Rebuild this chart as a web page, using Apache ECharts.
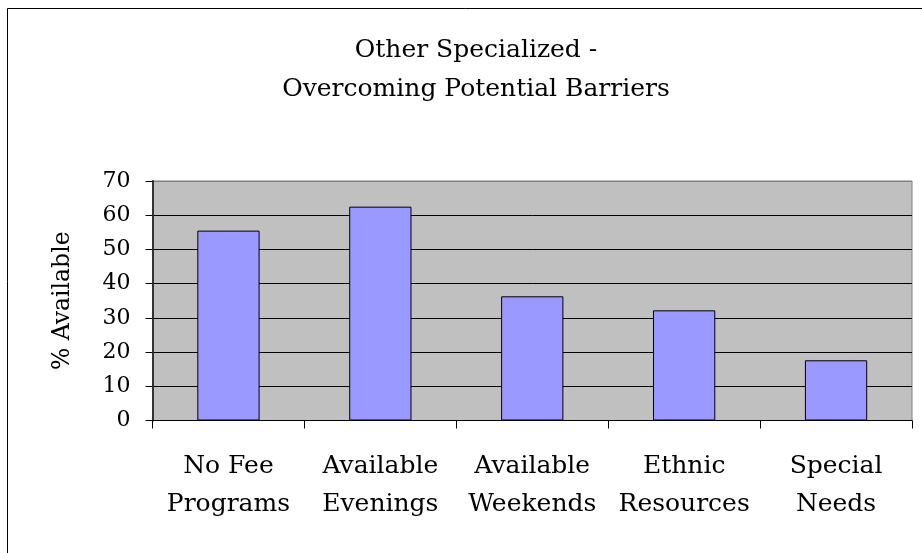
<!DOCTYPE html>
<html>
<head>
<meta charset="utf-8">
<script src="https://cdn.jsdelivr.net/npm/echarts@6/dist/echarts.min.js"></script>
<style>html,body{margin:0;padding:0;background:#fff}#c{width:922px;height:553px}</style>
</head>
<body>
<div id="c"></div>
<script>
const titleText = 'Other Specialized -\nOvercoming Potential Barriers';
const yAxisName = '% Available';
const categories = ['No Fee\nPrograms', 'Available\nEvenings', 'Available\nWeekends', 'Ethnic\nResources', 'Special\nNeeds'];
const values = [55.5, 62.5, 36.3, 32.2, 17.6];
const yMin = 0, yMax = 70, yStep = 10;

const FONT = 'DejaVu Serif';
const chart = echarts.init(document.getElementById('c'), null, {renderer: 'canvas'});
chart.setOption({
  animation: false,
  backgroundColor: '#ffffff',
  graphic: [{
    type: 'rect', silent: true, z: -1,
    shape: {x: 7.5, y: 8.5, width: 940, height: 580},
    style: {fill: 'none', stroke: '#000', lineWidth: 1}
  }],
  title: {
    text: titleText,
    left: 471, top: 26, textAlign: 'center',
    textStyle: {fontFamily: FONT, fontSize: 25, fontWeight: 'normal', color: '#000', lineHeight: 39}
  },
  grid: {
    left: 152.5, right: 10, top: 181, bottom: 132.5,
    show: true, backgroundColor: '#c0c0c0', borderColor: '#808080', borderWidth: 1
  },
  xAxis: {
    type: 'category', data: categories,
    axisLine: {show: true, lineStyle: {color: '#000', width: 1}},
    axisTick: {show: true, length: 8, alignWithLabel: false, lineStyle: {color: '#000'}},
    axisLabel: {fontFamily: FONT, fontSize: 25, color: '#000', lineHeight: 38, margin: 27, interval: 0}
  },
  yAxis: {
    type: 'value', min: yMin, max: yMax, interval: yStep,
    name: yAxisName, nameLocation: 'middle', nameGap: 78, nameRotate: 90,
    nameTextStyle: {fontFamily: FONT, fontSize: 23.5, color: '#000'},
    axisLine: {show: true, lineStyle: {color: '#333', width: 2}},
    axisTick: {show: true, length: 7, lineStyle: {color: '#000'}},
    axisLabel: {fontFamily: FONT, fontSize: 22, color: '#000', margin: 22},
    splitLine: {show: true, lineStyle: {color: ['#000','#000','#000','#000','#000','#000','#000','#808080'], width: 1}}
  },
  series: [{
    type: 'bar', data: values, barWidth: '41%',
    itemStyle: {color: '#9999ff', borderColor: '#000', borderWidth: 1}
  }]
});
</script>
</body>
</html>
